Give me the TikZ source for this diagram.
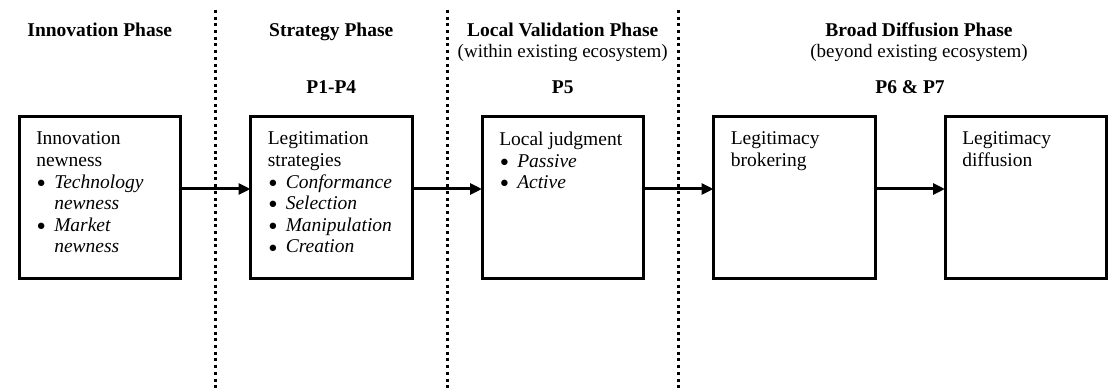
\documentclass[tikz,border=0pt]{standalone}
\usepackage{fontspec}
\setmainfont{Liberation Serif}
\usetikzlibrary{positioning}
\usetikzlibrary{calc}
\usetikzlibrary{arrows.meta}

\tikzset{
  stage/.style={draw, line width=3pt, minimum width=161.5pt, minimum height=162pt,
    inner xsep=17pt, inner ysep=15pt, outer sep=0pt},
  phase/.style={font=\bfseries\fontsize{19.5pt}{22pt}\selectfont, anchor=base, inner sep=0pt},
  subphase/.style={font=\fontsize{19pt}{22pt}\selectfont, anchor=base, inner sep=0pt},
  flow/.style={line width=3pt, -{Triangle[length=12pt,width=11pt]}},
  divider/.style={line width=3pt, dash pattern=on 3pt off 3.7pt}
}
\newcommand{\stagetext}[1]{\parbox[c][132pt][t]{127pt}{\raggedright\fontsize{19.5pt}{21.6pt}\selectfont #1}}
\newcommand{\bul}[1]{\makebox[18pt][l]{\hspace{1pt}\raisebox{0.8pt}{\scalebox{0.8}{$\bullet$}}}\textit{#1}}
\newcommand{\cont}[1]{\hspace*{18pt}\textit{#1}}

\begin{document}
\begin{tikzpicture}[x=1pt, y=-1pt, node distance=70pt]
        \useasboundingbox (0,0) rectangle (1117,390);
        \coordinate (top) at (0,10);
        \coordinate (bottom) at (0,390);
        \coordinate (ttlrow) at (0,37);
        \coordinate (subrow) at (0,58);
        \coordinate (prow) at (0,94);

        \node[stage] (innov) at (99.75,198) {\stagetext{Innovation\\newness\\
            \bul{Technology}\\\cont{newness}\\\bul{Market}\\\cont{newness}}};
        \node[stage, right=of innov] (strat) {\stagetext{Legitimation\\strategies\\
            \bul{Conformance}\\\bul{Selection}\\\bul{Manipulation}\\\bul{Creation}}};
        \node[stage, right=of strat] (local) {\stagetext{Local judgment\\
            \bul{Passive}\\\bul{Active}}};
        \node[stage, right=of local] (broker) {\stagetext{Legitimacy\\brokering}};
        \node[stage, right=of broker] (diffuse) {\stagetext{Legitimacy\\diffusion}};

        \coordinate (broad) at ($(broker)!0.5!(diffuse)$);

        \node[phase] (innovT) at (innov |- ttlrow) {Innovation Phase};
        \node[phase] (stratT) at (strat |- ttlrow) {Strategy Phase};
        \node[phase] (localT) at (local |- ttlrow) {Local Validation Phase};
        \node[phase, xshift=9pt] (broadT) at (broad |- ttlrow) {Broad Diffusion Phase};
        \node[subphase] (localS) at (local |- subrow) {(within existing ecosystem)};
        \node[subphase, xshift=9pt] (broadS) at (broad |- subrow) {(beyond existing ecosystem)};
        \node[phase] (stratP) at (strat |- prow) {P1-P4};
        \node[phase] (localP) at (local |- prow) {P5};
        \node[phase] (broadP) at (broad |- prow) {P6 \& P7};

        \coordinate (sep1) at ($(innov.east)!0.5!(strat.west)$);
        \coordinate (sep2) at ($(strat.east)!0.5!(local.west)$);
        \coordinate (sep3) at ($(local.east)!0.5!(broker.west)$);
        \foreach \s in {sep1,sep2,sep3}
          \draw[divider] (\s |- top) -- (\s |- bottom);

        \draw[flow] ([yshift=9pt]innov.east) -- ([yshift=9pt]strat.west);
        \draw[flow] ([yshift=9pt]strat.east) -- ([yshift=9pt]local.west);
        \draw[flow] ([yshift=9pt]local.east) -- ([yshift=9pt]broker.west);
        \draw[flow] ([yshift=9pt]broker.east) -- ([yshift=9pt]diffuse.west);
      \end{tikzpicture}
\end{document}
